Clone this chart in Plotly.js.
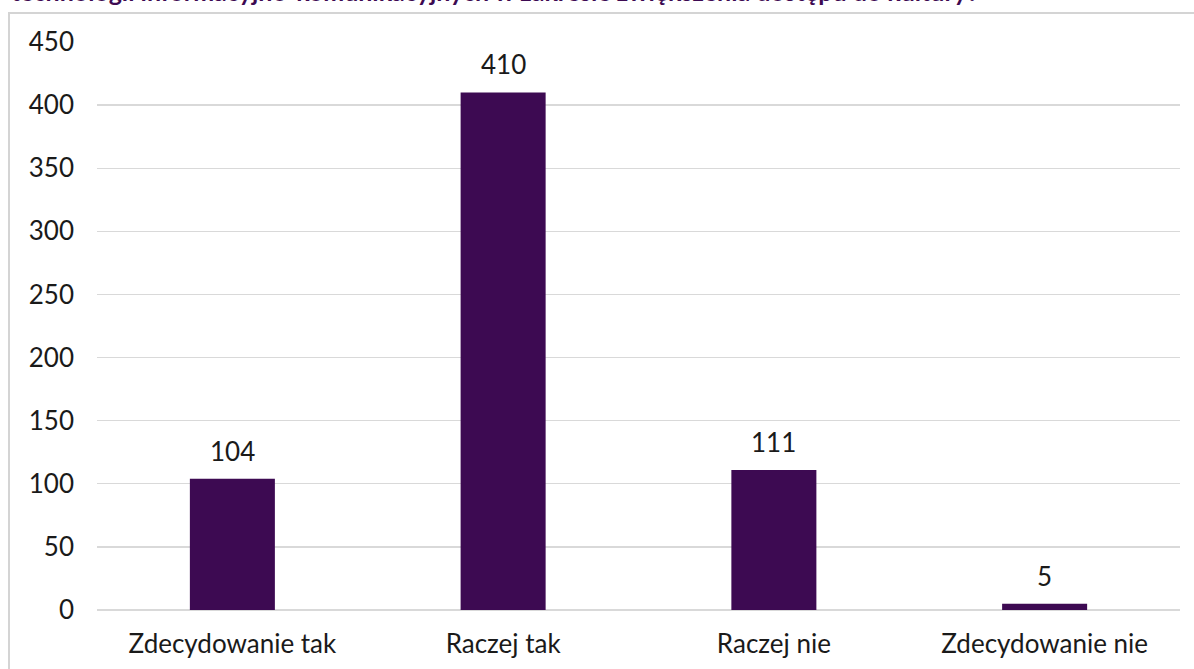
<!DOCTYPE html>
<html>
<head>
<meta charset="utf-8">
<script src="https://cdn.plot.ly/plotly-3.0.1.min.js"></script>
<style>
  html, body { margin: 0; padding: 0; background: #fff; overflow: hidden; }
  #frame { position: absolute; left: 8px; top: 12px; width: 1300px; height: 800px; border: 2px solid #d4d4d4; box-sizing: border-box; }
  #chart { position: absolute; left: 0; top: 0; width: 1194px; height: 669px; }
</style>
</head>
<body>
<div id="frame"></div>
<div id="chart"></div>
<script>
const titleText = "technologii informacyjno-komunikacyjnych w zakresie zwiększenia dostępu do kultury?";
const categories = ["Zdecydowanie tak", "Raczej tak", "Raczej nie", "Zdecydowanie nie"];
const values = [104, 410, 111, 5];
const yTicks = [0, 50, 100, 150, 200, 250, 300, 350, 400, 450];

const barColor = "#3D0A52";
const textColor = "#1a1a1a";
const font = "Lato, 'Open Sans', sans-serif";

const trace = {
  type: "bar",
  x: categories,
  y: values,
  marker: { color: barColor },
  width: 0.314,
  hoverinfo: "x+y"
};

const labelAnnotations = categories.map((c, i) => ({
  x: c, y: values[i], xref: "x", yref: "y",
  text: String(values[i]), showarrow: false,
  yanchor: "bottom", yshift: 10,
  font: { family: font, size: 26, color: textColor }
}));

const titleAnnotation = {
  xref: "paper", yref: "paper", x: -0.081, y: 1.089,
  xanchor: "left", yanchor: "middle",
  text: "<b>" + titleText + "</b>", showarrow: false,
  font: { family: font, size: 25, color: "#3D0A52" }
};

const layout = {
  width: 1194, height: 669,
  margin: { l: 97, r: 14, t: 42, b: 59 },
  paper_bgcolor: "rgba(0,0,0,0)",
  plot_bgcolor: "rgba(0,0,0,0)",
  showlegend: false,
  font: { family: font, size: 26, color: textColor },
  xaxis: {
    type: "category",
    showgrid: false, zeroline: false, showline: false,
    ticks: "", ticklabelstandoff: 16,
    tickfont: { family: font, size: 26, color: textColor }
  },
  yaxis: {
    range: [0, 450],
    tickvals: yTicks,
    ticktext: yTicks.map(String),
    showgrid: true, gridcolor: "#d9d9d9", gridwidth: 1.3,
    zeroline: true, zerolinecolor: "#d9d9d9", zerolinewidth: 1.3,
    showline: false, ticks: "", ticklabelstandoff: 22,
    tickfont: { family: font, size: 26, color: textColor }
  },
  annotations: [titleAnnotation].concat(labelAnnotations)
};

Plotly.newPlot("chart", [trace], layout, { displayModeBar: false, staticPlot: true });
</script>
</body>
</html>
